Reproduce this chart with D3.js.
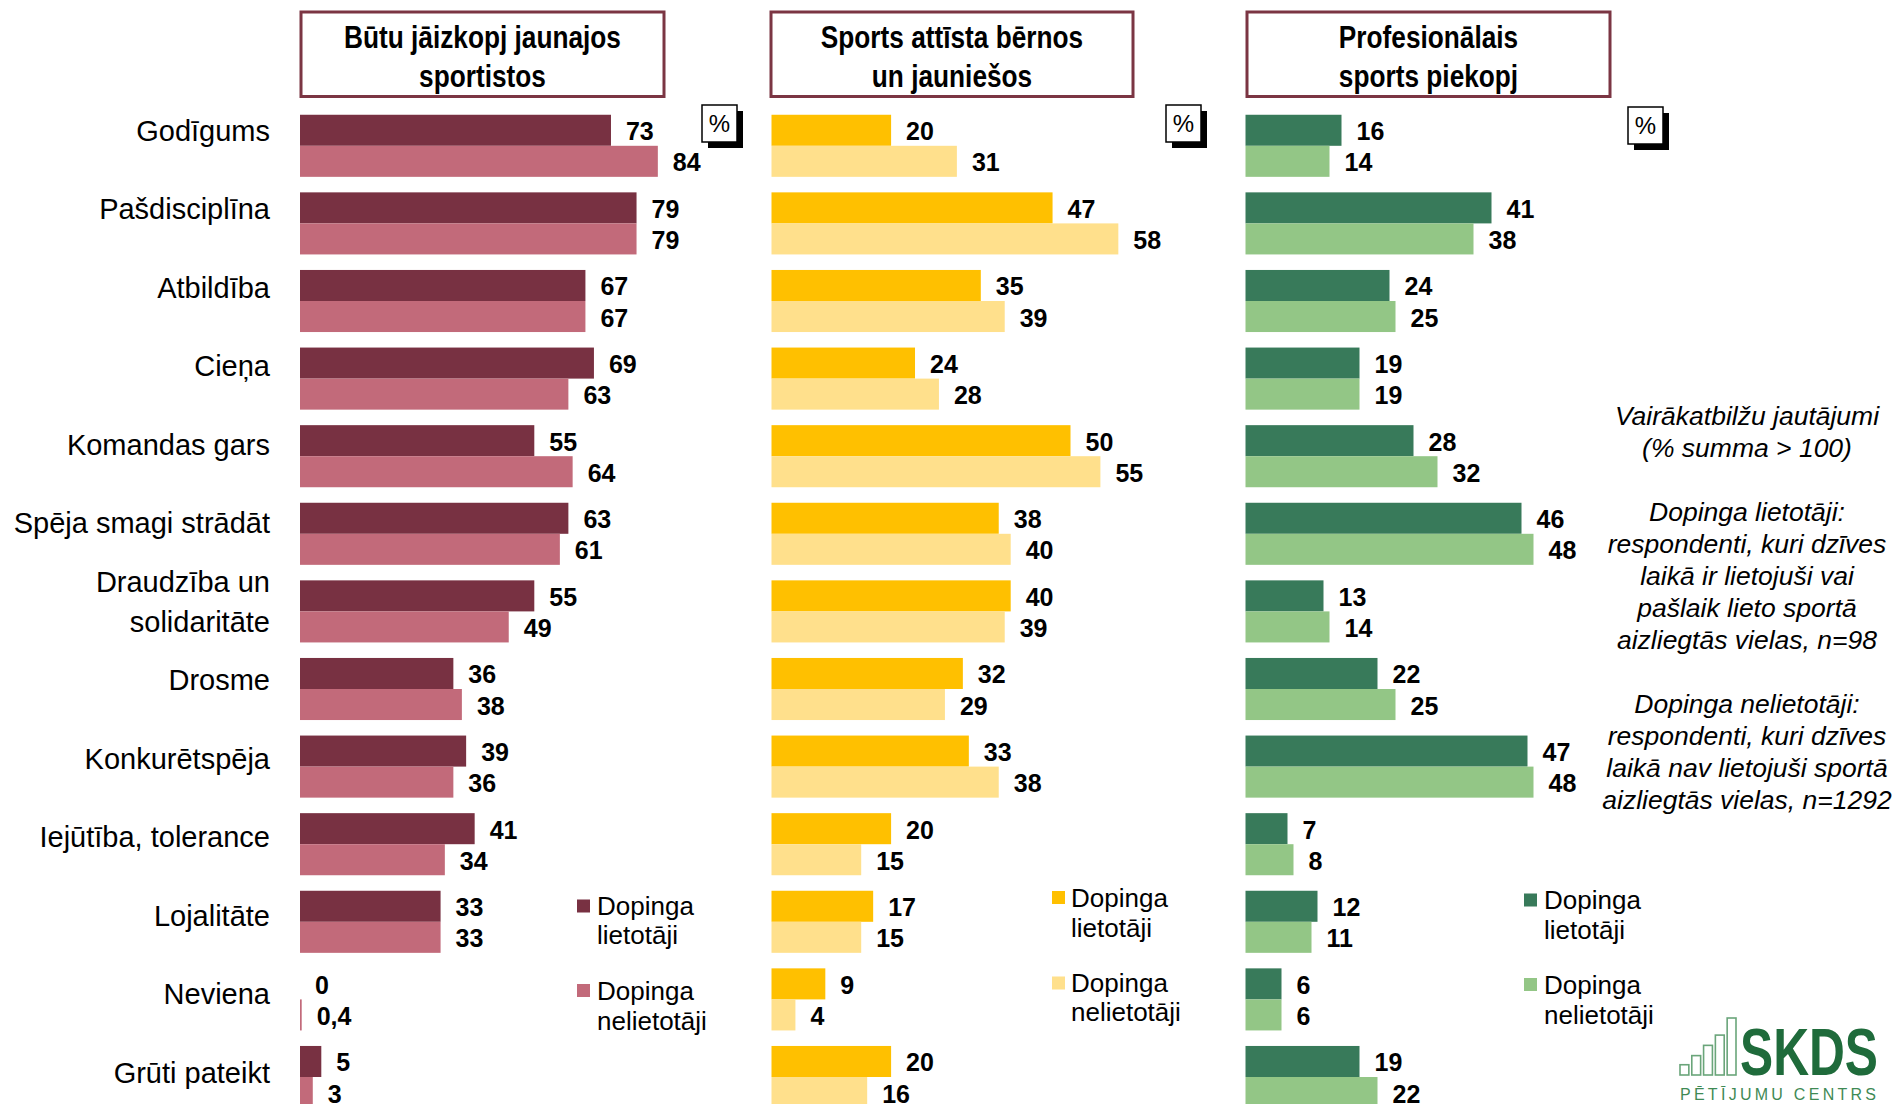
<!DOCTYPE html>
<html><head><meta charset="utf-8">
<script src="https://cdn.jsdelivr.net/npm/d3@7"></script>
<style>html,body{margin:0;padding:0;background:#fff;overflow:hidden}</style>
</head><body>
<script>
// ---------------- DATA ----------------
const categories = ["Godīgums","Pašdisciplīna","Atbildība","Cieņa","Komandas gars","Spēja smagi strādāt","Draudzība un solidaritāte","Drosme","Konkurētspēja","Iejūtība, tolerance","Lojalitāte","Neviena","Grūti pateikt"];
const categoryLines = [["Godīgums"],["Pašdisciplīna"],["Atbildība"],["Cieņa"],["Komandas gars"],["Spēja smagi strādāt"],["Draudzība un","solidaritāte"],["Drosme"],["Konkurētspēja"],["Iejūtība, tolerance"],["Lojalitāte"],["Neviena"],["Grūti pateikt"]];
const seriesNames = ["Dopinga lietotāji","Dopinga nelietotāji"];
const legendLines = [["Dopinga","lietotāji"],["Dopinga","nelietotāji"]];
const panelTitles = [["Būtu jāizkopj jaunajos","sportistos"],["Sports attīsta bērnos","un jauniešos"],["Profesionālais","sports piekopj"]];
const p1Users    = [73,79,67,69,55,63,55,36,39,41,33,0,5];
const p1NonUsers = [84,79,67,63,64,61,49,38,36,34,33,0.4,3];
const p2Users    = [20,47,35,24,50,38,40,32,33,20,17,9,20];
const p2NonUsers = [31,58,39,28,55,40,39,29,38,15,15,4,16];
const p3Users    = [16,41,24,19,28,46,13,22,47,7,12,6,19];
const p3NonUsers = [14,38,25,19,32,48,14,25,48,8,11,6,22];
const noteLines = ["Vairākatbilžu jautājumi","(% summa > 100)","","Dopinga lietotāji:","respondenti, kuri dzīves","laikā ir lietojuši vai","pašlaik lieto sportā","aizliegtās vielas, n=98","","Dopinga nelietotāji:","respondenti, kuri dzīves","laikā nav lietojuši sportā","aizliegtās vielas, n=1292"];
const percentLabel = "%";
const logoText = "SKDS";
const logoSub = "PĒTĪJUMU CENTRS";
const logoBars = [1,2,3,4,5];
const logoBarHeights = [0.9,1.7,2.6,3.5,5];

// ---------------- FONTS ----------------
function hasFont(f){
  const c=document.createElement('canvas').getContext('2d');
  const s='abcdefghijklmnopqrstuvwxyz0123456789ĀĒĪŪ';
  let diff=false;
  for(const fb of ['monospace','serif']){
    c.font='40px '+fb; const a=c.measureText(s).width;
    c.font='40px "'+f+'", '+fb; const b=c.measureText(s).width;
    if(a!==b) diff=true;
  }
  return diff;
}
let narrowFam=null;
if(hasFont('Liberation Sans Narrow')) narrowFam='"Liberation Sans Narrow"';
else if(hasFont('Arial Narrow')) narrowFam='"Arial Narrow"';
const SANS='"Liberation Sans", Arial, Helvetica, sans-serif';
const narrowScale = narrowFam ? 1 : 0.82;
const NARROW = narrowFam ? narrowFam+', '+SANS : SANS;

// ---------------- SVG ----------------
const W=1894,H=1104;
const svg=d3.select('body').append('svg').attr('width',W).attr('height',H)
  .style('font-family',SANS);

function narrowText(g,x,y,str,opts){
  return g.append('text')
    .attr('transform',`translate(${x},${y}) scale(${narrowScale},1)`)
    .attr('text-anchor',opts.anchor||'start')
    .attr('dominant-baseline','central')
    .style('font-family',NARROW)
    .style('font-weight',opts.weight||'bold')
    .style('font-size',opts.size+'px')
    .attr('fill',opts.fill||'#000')
    .text(str);
}

// band scale for bars
const y = d3.scaleBand().domain(categories).range([107,107+13*77.6]).paddingInner(0.2).paddingOuter(0.1);
const ySub = d3.scaleBand().domain(seriesNames).range([0,y.bandwidth()]);
// label positions
const yLab = d3.scalePoint().domain(categories).range([130.5,130.5+12*78.5]);

// category labels
const labG=svg.append('g');
categories.forEach((c,i)=>{
  const lines=categoryLines[i];
  const cy=yLab(c);
  const lh=40;
  lines.forEach((ln,j)=>{
    labG.append('text').attr('x',270).attr('y',cy+(j-(lines.length-1)/2)*lh)
      .attr('text-anchor','end').attr('dominant-baseline','central')
      .style('font-size','29px').attr('fill','#000').text(ln);
  });
});

const panels=[
  {users:p1Users,non:p1NonUsers,colors:['#783142','#c26a7a'],x0:300,pxPerUnit:4.26,box:[301,664],pct:[702,105],
   leg:{sq:577,tx:597,cy:[[906,935],[990.5,1020.5]]}},
  {users:p2Users,non:p2NonUsers,colors:['#ffc000','#ffe08c'],x0:771.5,pxPerUnit:5.98,box:[771,1133],pct:[1166,105],
   leg:{sq:1052,tx:1071,cy:[[897.5,927.5],[983,1012]]}},
  {users:p3Users,non:p3NonUsers,colors:['#387a5a','#93c686'],x0:1245.5,pxPerUnit:6.0,box:[1247,1610],pct:[1628,107],
   leg:{sq:1524,tx:1544,cy:[[900,930],[984.5,1014.5]]}}
];

panels.forEach((p,pi)=>{
  const g=svg.append('g');
  const x=d3.scaleLinear().domain([0,100]).range([p.x0,p.x0+100*p.pxPerUnit]);
  // title box
  g.append('rect').attr('x',p.box[0]).attr('y',12).attr('width',p.box[1]-p.box[0]).attr('height',84.5)
    .attr('fill','#fff').attr('stroke','#7b3543').attr('stroke-width',3);
  panelTitles[pi].forEach((ln,j)=>{
    narrowText(g,(p.box[0]+p.box[1])/2,[37.5,76][j],ln,{anchor:'middle',size:32});
  });
  // percent box
  g.append('rect').attr('x',p.pct[0]+6).attr('y',p.pct[1]+6).attr('width',35).attr('height',37).attr('fill','#000');
  g.append('rect').attr('x',p.pct[0]).attr('y',p.pct[1]).attr('width',35).attr('height',37)
    .attr('fill','#fff').attr('stroke','#000').attr('stroke-width',1.5);
  g.append('text').attr('x',p.pct[0]+17.5).attr('y',p.pct[1]+18.5).attr('text-anchor','middle')
    .attr('dominant-baseline','central').style('font-size','24px').text(percentLabel);
  // bars
  const series=[p.users,p.non];
  series.forEach((vals,si)=>{
    const sg=g.append('g');
    sg.selectAll('rect').data(vals).join('rect')
      .attr('x',x(0))
      .attr('y',(d,i)=>y(categories[i])+ySub(seriesNames[si]))
      .attr('width',d=>x(d)-x(0))
      .attr('height',ySub.bandwidth())
      .attr('fill',p.colors[si]);
    sg.selectAll('text').data(vals).join('text')
      .attr('x',d=>x(d)+15)
      .attr('y',(d,i)=>y(categories[i])+ySub(seriesNames[si])+ySub.bandwidth()/2+1)
      .attr('dominant-baseline','central')
      .style('font-weight','bold').style('font-size','25px')
      .text(d=>String(d).replace('.',','));
  });
  // legend
  seriesNames.forEach((s,si)=>{
    const cy=p.leg.cy[si];
    g.append('rect').attr('x',p.leg.sq).attr('y',cy[0]-6.5).attr('width',13).attr('height',13).attr('fill',p.colors[si]);
    legendLines[si].forEach((ln,j)=>{
      g.append('text').attr('x',p.leg.tx).attr('y',cy[j]).attr('dominant-baseline','central')
        .style('font-size','26px').text(ln);
    });
  });
});

// note text
const noteG=svg.append('g');
noteLines.forEach((ln,i)=>{
  if(!ln) return;
  noteG.append('text').attr('x',1747).attr('y',415.5+i*32).attr('text-anchor','middle')
    .attr('dominant-baseline','central').style('font-size','26.5px').style('font-style','italic').text(ln);
});

// logo
const lg=svg.append('g');
const bx=d3.scaleBand().domain(logoBars).range([1680,1736]).paddingInner(0.25);
const bh=d3.scaleLinear().domain([0,5]).range([0,57]);
logoBars.forEach((b,i)=>{
  lg.append('rect').attr('x',bx(b)).attr('y',1075-bh(logoBarHeights[i])).attr('width',bx.bandwidth()).attr('height',bh(logoBarHeights[i]))
    .attr('fill','none').attr('stroke','#6aa57a').attr('stroke-width',1.6);
});
lg.append('text').attr('x',1740).attr('y',1075).attr('textLength',138).attr('lengthAdjust','spacingAndGlyphs')
  .style('font-size','66px').style('font-weight','bold').attr('fill','#1f6b3b').text(logoText);
lg.append('text').attr('x',1680).attr('y',1100).attr('textLength',196).attr('lengthAdjust','spacing')
  .style('font-size','16px').attr('fill','#3f8a55').text(logoSub);
</script>
</body></html>
